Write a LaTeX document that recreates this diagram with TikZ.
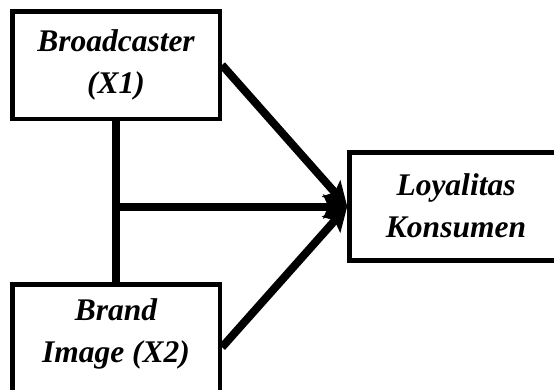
\documentclass[tikz,border=0pt]{standalone}
\usepackage{fontspec}
\setmainfont{Liberation Serif}
\usetikzlibrary{arrows.meta}
\begin{document}
\begin{tikzpicture}[x=1pt,y=1pt,
  box/.style={draw=black,line width=4.5pt,fill=white,rectangle,inner sep=0pt,minimum width=207.5pt},
  lbl/.style={align=center,inner sep=0pt,font=\fontsize{31.5}{42}\selectfont\bfseries\itshape},
  conn/.style={line width=8pt,draw=black},
  arr/.style={conn,-{Stealth[length=24pt,width=24pt,inset=5pt]}}]
\useasboundingbox (0,0) rectangle (554,-389);
\clip (0,0) rectangle (554,-389);
\fill[white] (0,0) rectangle (554,-389);
% boxes
\node[box,minimum height=107.5pt] (b1) at (116,-65) {};
\node[box,minimum height=126pt] (b2) at (116,-347.25) {};
\node[box,minimum width=250pt,minimum height=108pt] (b3) at (474.5,-206.5) {};
% texts
\node[lbl] (t1) at (116,-65) {Broadcaster\\(X1)};
\node[lbl] (t2) at (116,-334) {Brand\\Image (X2)};
\node[lbl] (t3) at (456,-206) {Loyalitas\\Konsumen};
% connectors
\coordinate (j) at (116,-206.5);
\draw[conn] (b1.south) -- (b2.north);
\draw[arr] (j) -- (b3.west);
\draw[arr] (b1.east) -- (b3.west);
\draw[arr] (b2.east) -- (b3.west);
\end{tikzpicture}
\end{document}
